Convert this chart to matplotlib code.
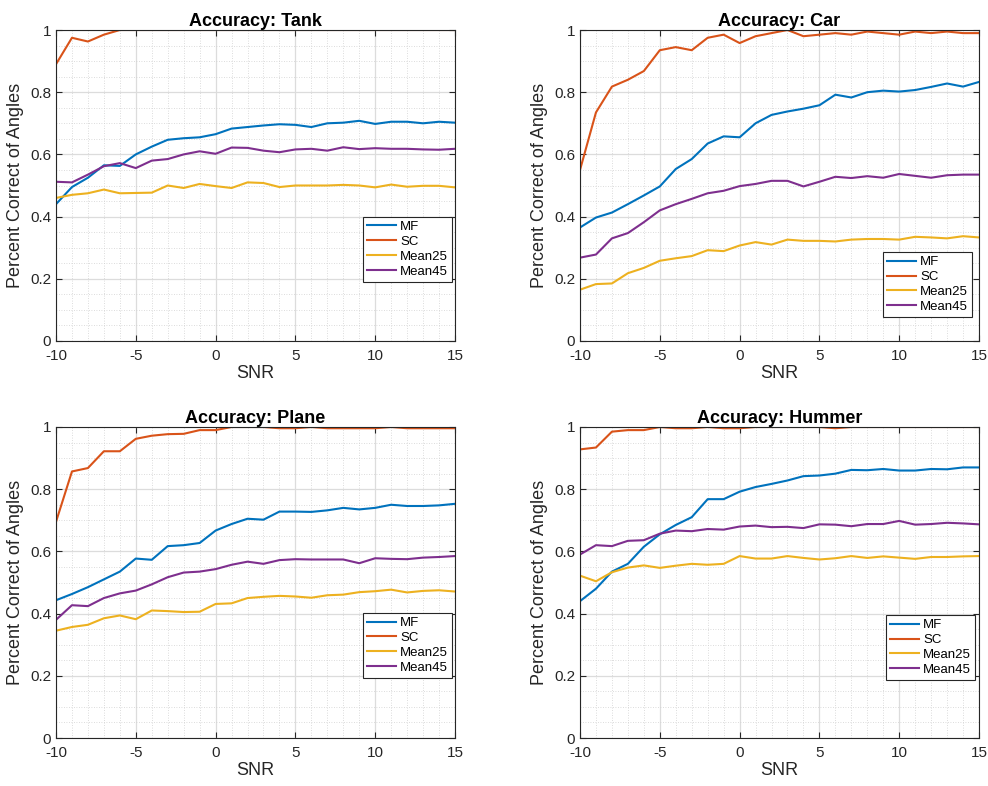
import matplotlib
matplotlib.use('Agg')
import matplotlib.pyplot as plt
import numpy as np

plt.rcParams['font.family'] = ['Liberation Sans', 'DejaVu Sans']

# SNR values
snr = list(range(-10, 16))
labels = ['MF', 'SC', 'Mean25', 'Mean45']
colors = ['#0072BD', '#D95319', '#EDB120', '#7E2F8E']

# Tank
tank_mf = [0.44, 0.495, 0.525, 0.565, 0.563, 0.60, 0.625, 0.647, 0.652, 0.655, 0.665, 0.683, 0.688,
           0.693, 0.697, 0.695, 0.688, 0.700, 0.702, 0.708, 0.698, 0.705, 0.705, 0.700, 0.705, 0.702]
tank_sc = [0.89, 0.975, 0.963, 0.985, 1.0, 1.0, 1.0, 1.0, 1.0, 1.0, 1.0, 1.0, 1.0,
           1.0, 1.0, 1.0, 1.0, 1.0, 1.0, 1.0, 1.0, 1.0, 1.0, 1.0, 1.0, 1.0]
tank_m25 = [0.46, 0.47, 0.475, 0.487, 0.475, 0.476, 0.477, 0.50, 0.492, 0.505, 0.498, 0.492, 0.51,
            0.508, 0.495, 0.50, 0.50, 0.50, 0.502, 0.50, 0.494, 0.503, 0.496, 0.499, 0.499, 0.494]
tank_m45 = [0.512, 0.51, 0.535, 0.562, 0.572, 0.556, 0.58, 0.585, 0.60, 0.61, 0.602, 0.622, 0.621,
            0.612, 0.607, 0.616, 0.618, 0.612, 0.623, 0.617, 0.62, 0.618, 0.618, 0.616, 0.615, 0.618]

# Car
car_mf = [0.365, 0.397, 0.413, 0.44, 0.468, 0.497, 0.553, 0.585, 0.635, 0.658, 0.655, 0.70, 0.727,
          0.738, 0.747, 0.758, 0.792, 0.783, 0.80, 0.805, 0.802, 0.807, 0.817, 0.828, 0.818, 0.833]
car_sc = [0.55, 0.735, 0.818, 0.84, 0.868, 0.935, 0.945, 0.935, 0.975, 0.985, 0.958, 0.98, 0.99,
          1.0, 0.98, 0.985, 0.99, 0.985, 0.995, 0.99, 0.985, 0.995, 0.99, 0.995, 0.99, 0.99]
car_m25 = [0.165, 0.183, 0.185, 0.218, 0.235, 0.258, 0.266, 0.273, 0.292, 0.289, 0.307, 0.318, 0.31,
           0.326, 0.322, 0.322, 0.32, 0.326, 0.328, 0.328, 0.326, 0.335, 0.333, 0.33, 0.337, 0.333]
car_m45 = [0.268, 0.278, 0.33, 0.347, 0.382, 0.42, 0.44, 0.457, 0.475, 0.483, 0.498, 0.505, 0.515,
           0.515, 0.497, 0.512, 0.528, 0.524, 0.53, 0.525, 0.537, 0.531, 0.525, 0.533, 0.535, 0.535]

# Plane
plane_mf = [0.443, 0.463, 0.485, 0.51, 0.535, 0.577, 0.573, 0.617, 0.62, 0.627, 0.667, 0.688, 0.705,
            0.702, 0.728, 0.728, 0.727, 0.732, 0.74, 0.735, 0.74, 0.75, 0.746, 0.746, 0.748, 0.753]
plane_sc = [0.695, 0.857, 0.868, 0.922, 0.922, 0.962, 0.972, 0.977, 0.978, 0.99, 0.99, 1.0, 1.0,
            1.0, 0.996, 0.996, 1.0, 0.996, 0.996, 0.996, 0.996, 1.0, 0.996, 0.996, 0.996, 0.996]
plane_m25 = [0.345, 0.357, 0.364, 0.385, 0.394, 0.382, 0.41, 0.408, 0.405, 0.406, 0.431, 0.433, 0.45,
             0.454, 0.457, 0.455, 0.451, 0.459, 0.461, 0.469, 0.472, 0.477, 0.468, 0.473, 0.475, 0.471]
plane_m45 = [0.38, 0.427, 0.424, 0.45, 0.465, 0.474, 0.494, 0.517, 0.532, 0.535, 0.543, 0.557, 0.567,
             0.56, 0.572, 0.575, 0.574, 0.574, 0.574, 0.562, 0.578, 0.576, 0.575, 0.58, 0.582, 0.585]

# Hummer
hum_mf = [0.44, 0.48, 0.535, 0.56, 0.615, 0.655, 0.685, 0.71, 0.768, 0.768, 0.792, 0.807, 0.817,
          0.828, 0.842, 0.844, 0.85, 0.862, 0.861, 0.865, 0.86, 0.86, 0.865, 0.864, 0.87, 0.87]
hum_sc = [0.928, 0.934, 0.985, 0.99, 0.99, 1.0, 0.996, 0.996, 1.0, 0.996, 0.996, 1.0, 1.0,
          1.0, 1.0, 1.0, 0.996, 1.0, 1.0, 1.0, 1.0, 1.0, 1.0, 1.0, 1.0, 1.0]
hum_m25 = [0.522, 0.504, 0.533, 0.548, 0.555, 0.547, 0.554, 0.56, 0.557, 0.56, 0.585, 0.577, 0.577,
           0.585, 0.579, 0.574, 0.578, 0.585, 0.579, 0.584, 0.58, 0.576, 0.582, 0.582, 0.584, 0.585]
hum_m45 = [0.59, 0.62, 0.617, 0.634, 0.636, 0.657, 0.667, 0.665, 0.672, 0.67, 0.68, 0.683, 0.678,
           0.679, 0.675, 0.687, 0.686, 0.681, 0.688, 0.688, 0.698, 0.686, 0.688, 0.692, 0.69, 0.687]

panels = [
    ('Accuracy: Tank', [tank_mf, tank_sc, tank_m25, tank_m45], (0.992, 0.399)),
    ('Accuracy: Car', [car_mf, car_sc, car_m25, car_m45], (0.982, 0.286)),
    ('Accuracy: Plane', [plane_mf, plane_sc, plane_m25, plane_m45], (0.992, 0.402)),
    ('Accuracy: Hummer', [hum_mf, hum_sc, hum_m25, hum_m45], (0.99, 0.395)),
]

fig = plt.figure(figsize=(9.88, 7.86), dpi=100)
# axes rectangles in pixel terms: left, top
rects = [(56, 30), (580, 30), (56, 427), (580, 427)]
W, H = 988.0, 786.0
aw, ah = 399, 311

for (title, series, legpos), (lx, ty) in zip(panels, rects):
    ax = fig.add_axes([lx / W, 1 - (ty + ah) / H, aw / W, ah / H])
    for y, lab, c in zip(series, labels, colors):
        ax.plot(snr, y, color=c, lw=1.5, label=lab)
    ax.set_xlim(-10, 15)
    ax.set_ylim(0, 1)
    ax.set_xticks([-10, -5, 0, 5, 10, 15])
    ax.set_xticklabels(['-10', '-5', '0', '5', '10', '15'])
    ax.set_yticks([0, 0.2, 0.4, 0.6, 0.8, 1])
    ax.set_yticklabels(['0', '0.2', '0.4', '0.6', '0.8', '1'])
    ax.set_xticks(np.arange(-10, 16, 1), minor=True)
    ax.set_yticks(np.arange(0, 1.001, 0.05), minor=True)
    ax.grid(True, which='major', color='#dcdcdc', lw=0.9)
    ax.grid(True, which='minor', color='#d0d0d0', lw=0.6, ls=(0, (1, 2)))
    ax.set_axisbelow(True)
    ax.tick_params(which='both', direction='in', top=True, right=True, labelsize=11,
                   colors='#262626')
    ax.tick_params(which='minor', length=0)
    ax.tick_params(which='major', length=4)
    ax.tick_params(axis='x', which='major', pad=6)
    for s in ax.spines.values():
        s.set_color('#262626')
        s.set_linewidth(0.8)
    ax.set_title(title, fontsize=13, fontweight='bold', pad=3)
    ax.set_xlabel('SNR', fontsize=13, color='#262626', labelpad=1)
    ax.set_ylabel('Percent Correct of Angles', fontsize=13, color='#262626', labelpad=4)
    leg = ax.legend(loc='upper right', bbox_to_anchor=legpos, fontsize=9.5, fancybox=False,
                    framealpha=1, edgecolor='#262626', handlelength=2.2, borderpad=0.3,
                    labelspacing=0.2, handletextpad=0.3, borderaxespad=0)
    leg.get_frame().set_linewidth(0.8)

fig.savefig('out.png', dpi=100, facecolor='white')
